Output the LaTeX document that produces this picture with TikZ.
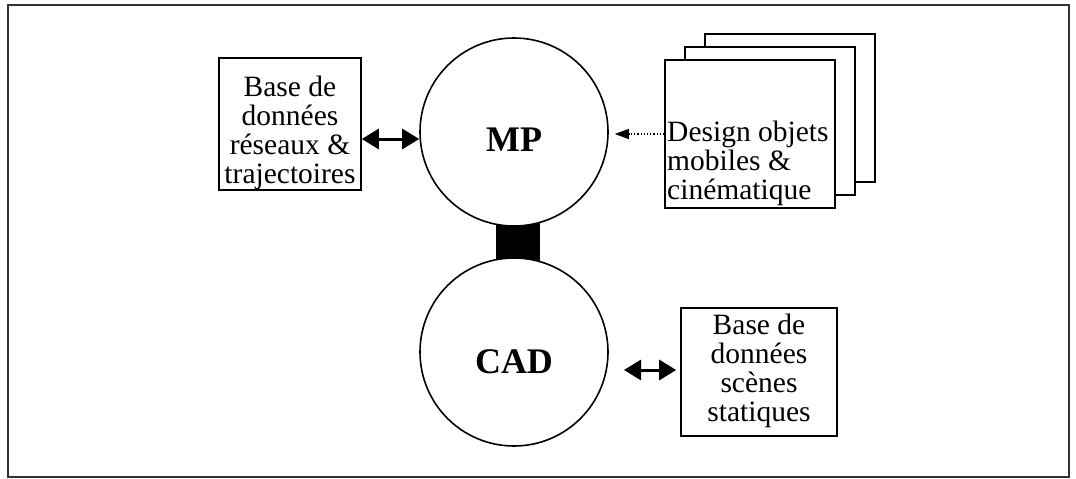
\documentclass[tikz,border=0pt]{standalone}
\usepackage{fontspec}
\setmainfont{Liberation Serif}
\usetikzlibrary{arrows.meta}

\tikzset{
    box/.style={draw, line width=1.6pt, fill=white, inner sep=0pt},
    txt/.style={inner sep=0pt, align=center, font=\fontsize{29.5}{29}\selectfont},
    round/.style={draw, circle, line width=1.6pt, fill=white, minimum size=188pt},
    big/.style={font=\fontsize{36}{40}\selectfont\bfseries},
    dbl/.style={line width=3pt,
        {Triangle[length=17pt, width=20pt]}-{Triangle[length=17pt, width=20pt]}},
}

\begin{document}
\begin{tikzpicture}[x=1pt, y=-1pt]
        \useasboundingbox (0, 0) rectangle (1076, 479);
        \draw[line width=1.4pt, black!80] (8, 5) rectangle (1069, 477); % frame

        \fill (496, 215) rectangle (540, 270); % link MP - CAD

        \node[round] (mp) at (514, 132) {};
        \node[round] (cad) at (514, 352) {};
        \node[big] (mp-text) at (514, 140) {MP};
        \node[big] (cad-text) at (514, 362) {CAD};

        \node[box, minimum width=142, minimum height=132] (db-net) at (290, 124) {};
        \node[txt] (db-net-text) at (290, 133) {Base de\\données\\réseaux \&\\trajectoires};
        \node[box, minimum width=156, minimum height=128] (db-scene) at (759, 372) {};
        \node[txt] (db-scene-text) at (759, 371) {Base de\\données\\scènes\\statiques};

        % stack of sheets
        \node[box, minimum width=170, minimum height=148] (design-3) at (790, 108) {};
        \node[box, minimum width=170, minimum height=148] (design-2) at (770, 121) {};
        \node[box, minimum width=170, minimum height=148] (design) at (750, 134) {};
        \node[txt, anchor=west, align=left] (design-text) at (667, 163)
            {Design objets\\mobiles \&\\cinématique};

        \draw[dbl] (db-net.east |- 0, 139) -- (mp.west |- 0, 139);
        \coordinate (cad-arr) at (624, 370);
        \draw[dbl, shorten >=4pt] (cad-arr) -- (db-scene.west |- cad-arr);
        \draw[dotted, line width=1.2pt, shorten >=6pt, -{Triangle[length=14pt, width=10pt]}]
            (design.west |- 0, 134) -- (mp.east |- 0, 134);
\end{tikzpicture}
\end{document}
